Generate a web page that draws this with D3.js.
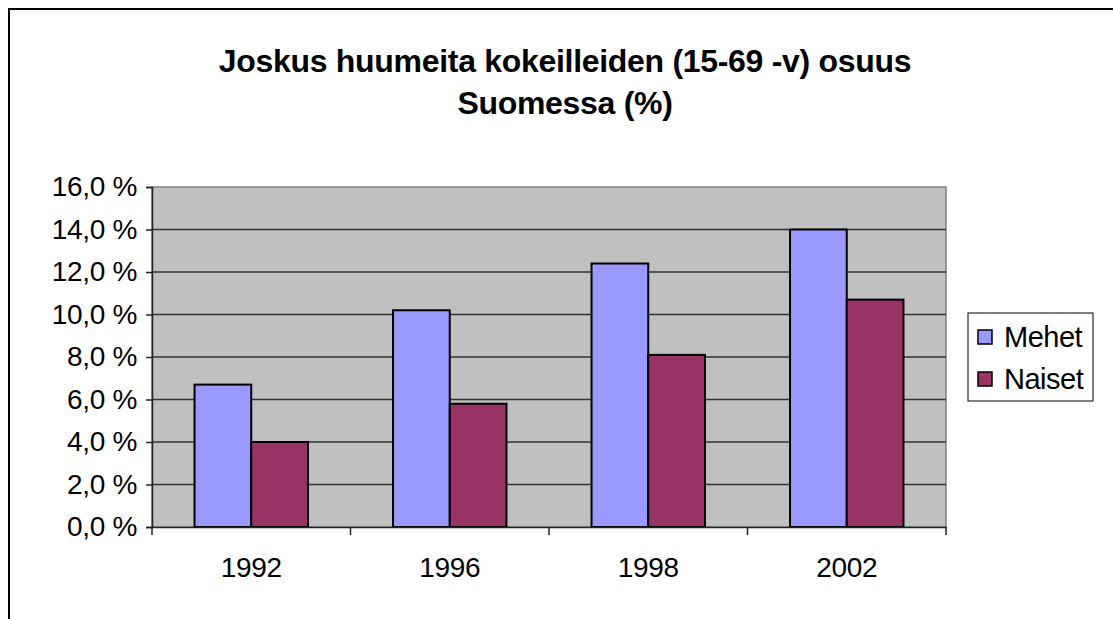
<!DOCTYPE html>
<html>
<head>
<meta charset="utf-8">
<script src="https://cdn.jsdelivr.net/npm/d3@7"></script>
<style>
  body { margin: 0; background: #fff; }
  svg text { font-family: "Liberation Sans", Arial, sans-serif; }
</style>
</head>
<body>
<div id="chart"></div>
<script>
const years = ["1992", "1996", "1998", "2002"]
const seriesNames = ["Mehet", "Naiset"]
const mehet = [6.7, 10.2, 12.4, 14.0]
const naiset = [4.0, 5.8, 8.1, 10.7]
const yTicks = [0, 2, 4, 6, 8, 10, 12, 14, 16]
const colors = ["#9999ff", "#993366"]

function createChart() {
  const W = 1113, H = 619
  const margin = { top: 187, left: 152, right: 167, bottom: 92 }
  const width = W - margin.left - margin.right
  const height = H - margin.top - margin.bottom

  const svg = d3.select("#chart").append("svg")
    .attr("width", W).attr("height", H)

  // outer frame (cropped at right/bottom)
  svg.append("rect")
    .attr("x", 9).attr("y", 9)
    .attr("width", W + 10).attr("height", H + 10)
    .attr("fill", "#fff").attr("stroke", "#000").attr("stroke-width", 2)

  // title
  const title = svg.append("text")
    .attr("text-anchor", "middle")
    .attr("font-weight", "bold")
    .attr("font-size", "32px")
    .attr("letter-spacing", "-0.3px")
  title.append("tspan").attr("x", 565).attr("y", 72).text("Joskus huumeita kokeilleiden (15-69 -v) osuus")
  title.append("tspan").attr("x", 565).attr("y", 114).text("Suomessa (%)")

  const g = svg.append("g").attr("transform", `translate(${margin.left},${margin.top})`)

  const x = d3.scaleBand().domain(years).range([0, width])
  const groupW = x.bandwidth() * 2 / 3.5
  const xs = d3.scaleBand().domain(seriesNames).range([0, groupW])
  const y = d3.scaleLinear().domain([0, 16]).range([height, 0])

  g.append("rect")
    .attr("width", width).attr("height", height)
    .attr("fill", "#c0c0c0").attr("stroke", "#808080").attr("stroke-width", 1.5)

  g.selectAll(".grid")
    .data(yTicks.slice(1, -1))
    .enter().append("line")
    .attr("x1", 0).attr("x2", width)
    .attr("y1", (d) => y(d)).attr("y2", (d) => y(d))
    .attr("stroke", "#333").attr("stroke-width", 1.5)

  const data = years.map((yr, i) => ({ year: yr, values: [mehet[i], naiset[i]] }))

  const groups = g.selectAll(".grp")
    .data(data)
    .enter().append("g")
    .attr("transform", (d) => `translate(${x(d.year) + (x.bandwidth() - groupW) / 2},0)`)

  groups.selectAll("rect")
    .data((d) => d.values.map((v, j) => ({ name: seriesNames[j], v, j })))
    .enter().append("rect")
    .attr("x", (d) => xs(d.name))
    .attr("width", xs.bandwidth())
    .attr("y", (d) => y(d.v))
    .attr("height", (d) => height - y(d.v))
    .attr("fill", (d) => colors[d.j])
    .attr("stroke", "#000").attr("stroke-width", 2)

  const fmt = (d) => d.toFixed(1).replace(".", ",") + " %"

  const yAxis = g.append("g")
    .call(d3.axisLeft(y).tickValues(yTicks).tickSize(6).tickPadding(9).tickFormat(fmt))
  yAxis.select(".domain").attr("stroke", "#222").attr("stroke-width", 1.5)
  yAxis.selectAll(".tick line").attr("stroke", "#222").attr("stroke-width", 1.5)
  yAxis.selectAll("text")
    .attr("font-size", "28px").attr("fill", "#000")
    .attr("letter-spacing", "-0.3px")
    .attr("font-family", "'Liberation Sans', Arial, sans-serif")

  const xAxis = g.append("g")
    .attr("transform", `translate(0,${height})`)
    .call(d3.axisBottom(x).tickSize(0).tickPadding(30))
  xAxis.select(".domain").attr("stroke", "#222").attr("stroke-width", 1.5)
  xAxis.selectAll("text")
    .attr("font-size", "28px").attr("fill", "#000")
    .attr("letter-spacing", "-0.3px")
    .attr("font-family", "'Liberation Sans', Arial, sans-serif")

  // category separator ticks
  g.selectAll(".xtick")
    .data(years.concat(["end"]))
    .enter().append("line")
    .attr("x1", (d, i) => i * x.step()).attr("x2", (d, i) => i * x.step())
    .attr("y1", height).attr("y2", height + 8)
    .attr("stroke", "#222").attr("stroke-width", 1.5)

  // legend
  const lg = svg.append("g").attr("transform", "translate(968,313)")
  lg.append("rect").attr("width", 125).attr("height", 88)
    .attr("fill", "#fff").attr("stroke", "#000").attr("stroke-width", 1)
  seriesNames.forEach((name, i) => {
    const row = lg.append("g").attr("transform", `translate(10,${23 + i * 42})`)
    row.append("rect").attr("x", 0).attr("y", -6).attr("width", 14).attr("height", 14)
      .attr("fill", colors[i]).attr("stroke", "#000").attr("stroke-width", 1.5)
    row.append("text").attr("x", 26).attr("y", 11)
      .attr("font-size", "29px").attr("letter-spacing", "-0.5px").text(name)
  })
}

createChart()
</script>
</body>
</html>
